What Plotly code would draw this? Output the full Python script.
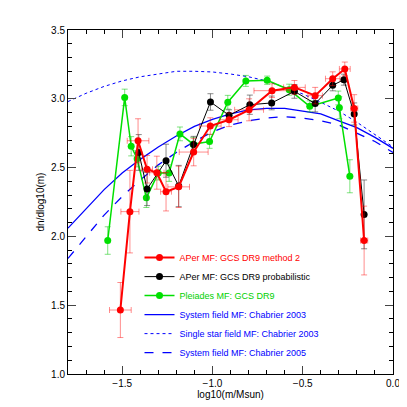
import plotly.graph_objects as go

# APer MF: GCS DR9 method 2
red_x = [-1.51, -1.457, -1.412, -1.362, -1.308, -1.257, -1.187, -1.104, -1.012, -0.908,
         -0.797, -0.67, -0.546, -0.431, -0.334, -0.267, -0.215, -0.16]
red_y = [1.465, 2.18, 2.695, 2.488, 2.463, 2.325, 2.36, 2.613, 2.802, 2.848,
         2.92, 3.059, 3.083, 3.023, 3.146, 3.217, 2.93, 1.97]
red_xerr = [0.06, 0.05, 0.06, 0.03, 0.04, 0.03, 0.06, 0.08, 0.06, 0.05,
            0.08, 0.1, 0.06, 0.04, 0.04, 0.03, 0.02, 0.02]
red_yerr = [0.2, 0.3, 0.16, 0.1, 0.12, 0.14, 0.15, 0.1, 0.06, 0.05,
            0.08, 0.05, 0.05, 0.06, 0.05, 0.05, 0.1, 0.25]

# APer MF: GCS DR9 probabilistic
blk_x = [-1.408, -1.362, -1.257, -1.187, -1.104, -1.011, -0.908, -0.793, -0.672,
         -0.546, -0.431, -0.334, -0.272, -0.215, -0.16]
blk_y = [2.61, 2.344, 2.55, 2.366, 2.667, 2.977, 2.88, 2.957, 2.97,
         3.054, 2.965, 3.098, 3.139, 2.89, 2.16]
blk_yerr = [0.13, 0.12, 0.12, 0.15, 0.06, 0.06, 0.04, 0.07, 0.05,
            0.05, 0.06, 0.04, 0.04, 0.08, 0.25]

# Pleiades MF: GCS DR9
grn_x = [-1.58, -1.486, -1.45, -1.417, -1.366, -1.30, -1.24, -1.18, -1.107, -1.016,
         -0.915, -0.815, -0.697, -0.575, -0.461, -0.303, -0.297, -0.239]
grn_y = [1.97, 3.01, 2.655, 2.565, 2.28, 2.46, 2.46, 2.745, 2.67, 2.69,
         2.975, 3.13, 3.135, 3.066, 2.945, 3.006, 2.935, 2.437]
grn_yerr = [0.1, 0.06, 0.07, 0.06, 0.07, 0.05, 0.06, 0.05, 0.05, 0.05,
            0.05, 0.04, 0.03, 0.04, 0.04, 0.05, 0.08, 0.12]

# Field mass functions
model_x = [-1.8, -1.7, -1.6, -1.5, -1.4, -1.3, -1.2, -1.1, -1.0, -0.9,
           -0.8, -0.7, -0.6, -0.5, -0.4, -0.3, -0.2, -0.1, 0.0]
sys03_y = [2.06, 2.20, 2.34, 2.46, 2.56, 2.65, 2.73, 2.80, 2.85, 2.89,
           2.92, 2.93, 2.93, 2.91, 2.89, 2.84, 2.79, 2.72, 2.64]
single03_y = [2.98, 3.04, 3.09, 3.13, 3.16, 3.18, 3.20, 3.20, 3.195, 3.18,
              3.16, 3.13, 3.085, 3.035, 2.975, 2.91, 2.83, 2.74, 2.65]
sys05_y = [1.84, 2.00, 2.155, 2.29, 2.41, 2.52, 2.61, 2.69, 2.76, 2.81,
           2.84, 2.86, 2.87, 2.86, 2.84, 2.81, 2.75, 2.69, 2.61]

fig = go.Figure()

fig.add_trace(go.Scatter(x=model_x, y=sys05_y, mode='lines', line=dict(color='blue', width=1.3, dash='dash'),
                         name="<span style='color:blue'>System field MF: Chabrier 2005</span>"))
fig.add_trace(go.Scatter(x=model_x, y=single03_y, mode='lines', line=dict(color='blue', width=1, dash='dot'),
                         name="<span style='color:blue'>Single star field MF: Chabrier 2003</span>"))
fig.add_trace(go.Scatter(x=model_x, y=sys03_y, mode='lines', line=dict(color='blue', width=1.3),
                         name="<span style='color:blue'>System field MF: Chabrier 2003</span>"))

fig.add_trace(go.Scatter(x=grn_x, y=grn_y, mode='lines+markers',
                         line=dict(color='#00e000', width=1.5), marker=dict(size=7, color='#00e000'),
                         error_y=dict(array=grn_yerr, color='rgba(0,200,0,0.5)', width=3, thickness=1),
                         name="<span style='color:#00d000'>Pleiades MF: GCS DR9</span>"))
fig.add_trace(go.Scatter(x=blk_x, y=blk_y, mode='lines+markers',
                         line=dict(color='black', width=1), marker=dict(size=7, color='black'),
                         error_y=dict(array=blk_yerr, color='rgba(60,60,60,0.6)', width=3, thickness=1),
                         name="APer MF: GCS DR9 probabilistic"))
fig.add_trace(go.Scatter(x=red_x, y=red_y, mode='lines+markers',
                         line=dict(color='red', width=2), marker=dict(size=7, color='red'),
                         error_x=dict(array=red_xerr, color='rgba(255,0,0,0.45)', width=3, thickness=1),
                         error_y=dict(array=red_yerr, color='rgba(255,0,0,0.45)', width=3, thickness=1),
                         name="<span style='color:red'>APer MF: GCS DR9 method 2</span>"))

axis_style = dict(showline=True, linecolor='black', linewidth=1, mirror='allticks',
                  ticks='inside', ticklen=8, showgrid=False, zeroline=False,
                  minor=dict(ticks='inside', ticklen=4, tickcolor='black'),
                  tickfont=dict(size=10, color='black'))

fig.update_xaxes(range=[-1.8, 0.0], dtick=0.5, tickformat='.1f',
                 title=dict(text='log10(m/Msun)', font=dict(size=10), standoff=2),
                 **axis_style)
fig.update_yaxes(range=[1.0, 3.5], dtick=0.5, tickformat='.1f',
                 title=dict(text='dn/dlog10(m)', font=dict(size=10), standoff=4),
                 **axis_style)

fig.update_layout(width=407, height=407, margin=dict(l=60, r=22, t=22, b=41),
                  plot_bgcolor='white', paper_bgcolor='white',
                  font=dict(family='Liberation Sans, Arial', size=10, color='black'),
                  legend=dict(x=0.22, y=0.02, xanchor='left', yanchor='bottom',
                              traceorder='reversed', bgcolor='rgba(0,0,0,0)',
                              font=dict(size=9), itemwidth=30, tracegroupgap=0))

fig.write_html("out.html")
